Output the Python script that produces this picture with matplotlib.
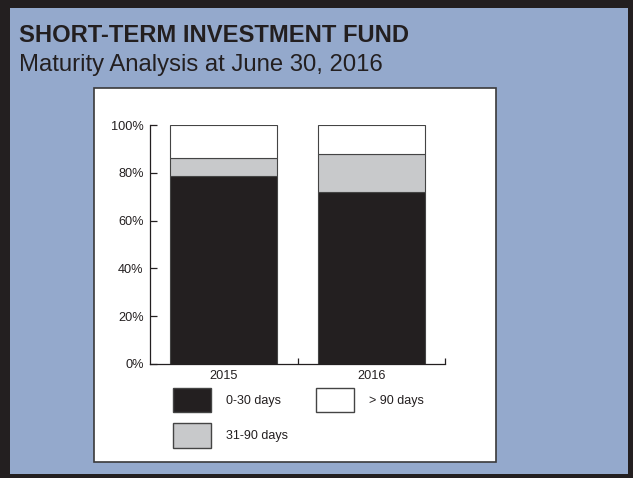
import matplotlib

matplotlib.use("Agg")
import matplotlib.pyplot as plt
from matplotlib.patches import Patch, Rectangle
from matplotlib.ticker import FuncFormatter

YEARS = ["2015", "2016"]
SERIES = ["0-30 days", "31-90 days", "> 90 days"]
DAYS_0_30 = [78.6, 71.8]
DAYS_31_90 = [7.8, 15.9]
DAYS_OVER_90 = [13.6, 12.3]
Y_TICKS = [0, 20, 40, 60, 80, 100]

DARK = "#231f20"
GRAY = "#c8c9cb"
BLUE = "#94a9cc"

W, H = 633, 478
plt.rcParams["font.family"] = ["Liberation Sans", "DejaVu Sans"]
plt.rcParams["text.color"] = DARK

fig = plt.figure(figsize=(W / 100, H / 100), dpi=100, facecolor=DARK)


def fx(px):
    return px / W


def fy(py):
    return 1 - py / H


# blue panel and white chart panel
fig.patches.append(Rectangle((fx(10), fy(474)), fx(618), 466 / H, transform=fig.transFigure,
                             facecolor=BLUE, edgecolor="none", zorder=0))
fig.patches.append(Rectangle((fx(94), fy(462)), fx(402), 374 / H, transform=fig.transFigure,
                             facecolor="white", edgecolor="#3a3a3a", linewidth=1.2, zorder=1))

fig.text(fx(19), fy(35), "SHORT-TERM INVESTMENT FUND", fontsize=17.1, fontweight="bold",
         va="center", ha="left")
fig.text(fx(19), fy(64.5), "Maturity Analysis at June 30, 2016", fontsize=17.2,
         va="center", ha="left")

ax = fig.add_axes([fx(150), fy(364), fx(295), 239 / H])
ax.set_zorder(3)
ax.patch.set_alpha(0)
x = [0.5, 1.5]
width = 0.725
bottom2 = [a + b for a, b in zip(DAYS_0_30, DAYS_31_90)]
ax.bar(x, DAYS_0_30, width, color=DARK, edgecolor="#444444", linewidth=0.8)
ax.bar(x, DAYS_31_90, width, bottom=DAYS_0_30, color=GRAY, edgecolor="#444444", linewidth=0.8)
ax.bar(x, DAYS_OVER_90, width, bottom=bottom2, color="white", edgecolor="#444444", linewidth=0.8)

ax.set_xlim(0, 2)
ax.set_ylim(0, 100)
ax.spines["top"].set_visible(False)
ax.spines["right"].set_visible(False)
for s in ("left", "bottom"):
    ax.spines[s].set_linewidth(0.9)
    ax.spines[s].set_color(DARK)
ax.set_yticks(Y_TICKS)
ax.yaxis.set_major_formatter(FuncFormatter(lambda v, _: f"{v:.0f}%"))
ax.tick_params(axis="y", direction="in", length=5, width=0.9, labelsize=9.2, pad=4.5,
               colors=DARK)
ax.set_xticks([1, 2])
ax.set_xticklabels([])
ax.set_xticks(x, minor=True)
ax.set_xticklabels(YEARS, minor=True)
ax.tick_params(axis="x", which="major", direction="in", length=4, width=0.9, colors=DARK)
ax.tick_params(axis="x", which="minor", length=0, labelsize=9.2, pad=4, colors=DARK)

handles = [
    Patch(facecolor=DARK, edgecolor="#444444", label=SERIES[0]),
    Patch(facecolor=GRAY, edgecolor="#444444", label=SERIES[1]),
    Patch(facecolor="white", edgecolor="#444444", label=SERIES[2]),
]
leg = fig.legend(handles=handles, ncol=2, frameon=False, fontsize=9, loc="upper left",
                 bbox_to_anchor=(fx(168), fy(383)), handlelength=3.0, handleheight=2.6,
                 handletextpad=1.2, labelspacing=0.9, columnspacing=2.3, borderaxespad=0)
leg.set_zorder(4)

fig.savefig("out.png", dpi=100, facecolor=DARK)
